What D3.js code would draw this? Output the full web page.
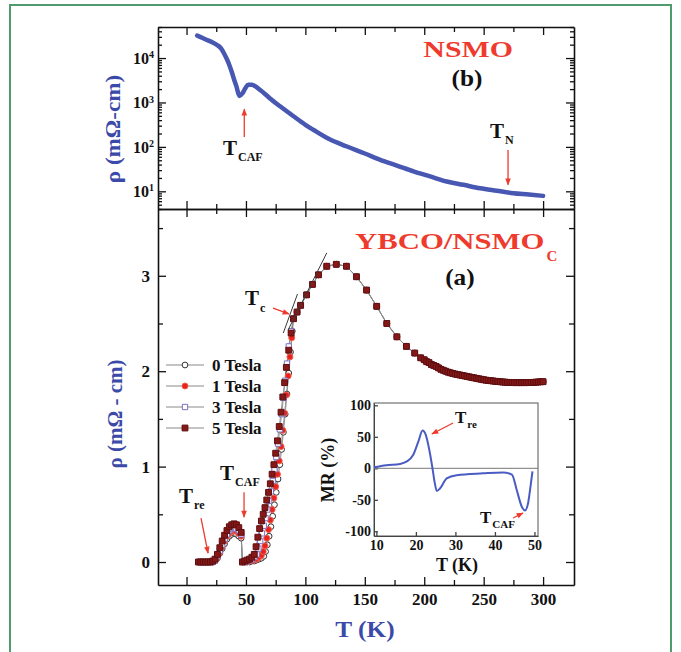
<!DOCTYPE html>
<html>
<head>
<meta charset="utf-8">
<script src="https://cdn.jsdelivr.net/npm/d3@7"></script>
<style>
  body { margin: 0; background: #fff; }
  text { font-family: "Liberation Serif", "Times New Roman", serif; font-weight: bold; }
</style>
</head>
<body>
<div id="chart"></div>
<script>
// ---------- values ----------
const fieldNames = ['0 Tesla', '1 Tesla', '3 Tesla', '5 Tesla'];

// (b) NSMO film, rho in mOhm-cm on a log axis
const nsmoT   = [9, 14, 18, 22, 26, 29, 31, 33.5, 36, 38, 40, 42, 44.5, 47, 49.5, 52, 55, 58, 62, 66,
                 70, 79, 90, 100, 107, 120, 135, 150, 163, 177, 191, 205, 219, 233, 247, 261, 275, 288, 300];
const nsmoRho = [3.2e4, 2.8e4, 2.5e4, 2.25e4, 1.95e4, 1.65e4, 1.35e4, 1.0e4, 7.0e3, 4.9e3,
                 3.3e3, 2.3e3, 1.4e3, 1.6e3, 2.1e3, 2.5e3, 2.5e3, 2.3e3, 1.9e3, 1.55e3,
                 1.25e3, 810, 490, 315, 240, 150, 102, 71, 51, 38, 28, 21.6, 16.6, 14, 11.7, 10.3, 9.1, 8.5, 7.9];

// (a) YBCO/NSMO_C below Tc, one pair per field
const t0T   = [10,12,14,16,18,20,22,24,26,28,30,32,34,36,38,40,42,44,46,47, 49,51,53,55,57,59,61,63,65,
               66.5,68,69.5,71,72.5,74,75.5,77,78.5,80,81.5,83,84.5,86,87.5,89];
const t0Rho = [0,0,0,0,0,0,0,0.01,0.04,0.09,0.14,0.19,0.24,0.27,0.29,0.30,0.29,0.27,0.25,0.0,
               0.0,0.0,0.0,0.01,0.01,0.02,0.03,0.04,0.06,
               0.11,0.18,0.27,0.37,0.48,0.6,0.73,0.87,1.02,1.18,1.36,1.55,1.76,1.98,2.2,2.42];
const t1T   = [10,12,14,16,18,20,22,24,26,28,30,32,34,36,38,40,42,44,46,47, 49,51,53,55,57,59,61,63,
               64.5,66,67.5,69,70.5,72,73.5,75,76.5,78,79.5,81,82.5,84,85.5,87,88.5];
const t1Rho = [0,0,0,0,0,0,0,0.01,0.05,0.1,0.16,0.22,0.27,0.30,0.32,0.33,0.32,0.30,0.27,0.0,
               0.0,0.0,0.01,0.02,0.02,0.03,0.05,0.07,
               0.11,0.17,0.25,0.34,0.44,0.55,0.67,0.79,0.92,1.06,1.21,1.38,1.56,1.75,1.95,2.15,2.35];
const t3T   = [10,12,14,16,18,20,22,24,26,28,30,32,34,36,38,40,42,44,46,47, 49,51,53,55,57,59,
               60.5,62,63.5,65,66.5,68,69.5,71,72.5,74,75.5,77,78.5,80,81.5,83,84.5,86,88];
const t3Rho = [0,0,0,0,0,0,0,0.02,0.06,0.12,0.18,0.24,0.29,0.33,0.35,0.36,0.35,0.33,0.29,0.0,
               0.0,0.01,0.02,0.03,0.05,0.08,
               0.14,0.22,0.3,0.38,0.46,0.55,0.64,0.74,0.85,0.97,1.1,1.24,1.39,1.55,1.72,1.9,2.08,2.26,2.42];
const t5T   = [10,12,14,16,18,20,22,24,26,28,30,32,34,36,38,40,42,44,46,47, 49,51,53,55,57,
               58.5,60,61.5,63,64.5,66,67.5,69,70.5,72,73.5,75,76.5,78,79.5,81,82.5,84,86,88];
const t5Rho = [0,0,0,0,0,0,0.01,0.03,0.08,0.15,0.22,0.28,0.33,0.37,0.39,0.40,0.39,0.36,0.31,0.0,
               0.01,0.02,0.03,0.05,0.08,
               0.16,0.26,0.35,0.43,0.5,0.57,0.65,0.73,0.82,0.92,1.02,1.14,1.27,1.42,1.57,1.73,1.88,2.04,2.22,2.4];

// normal state above Tc: the four fields lie on top of each other
const normalT   = [90, 93, 96, 101, 106, 111, 118, 126, 134.5, 143, 151.5, 160, 168.5, 177, 185, 192, 197,
                   200, 202, 204, 206, 208, 210, 212, 214, 216, 218, 220, 222, 224, 226, 228, 230, 232, 234,
                   236, 238, 240, 242, 244, 246, 248, 250, 252, 254, 256, 258, 260, 262, 264, 266, 268, 270,
                   272, 274, 276, 278, 280, 282, 284, 286, 288, 290, 292, 294, 296, 298, 300];
const normalRho = [2.55, 2.62, 2.69, 2.80, 2.91, 3.01, 3.10, 3.12, 3.10, 2.99, 2.85, 2.68, 2.50, 2.36, 2.26, 2.19, 2.14,
                   2.12, 2.10, 2.09, 2.07, 2.06, 2.05, 2.035, 2.02, 2.01, 2.00, 1.99, 1.983, 1.976, 1.97, 1.965, 1.96, 1.955, 1.95,
                   1.945, 1.94, 1.935, 1.93, 1.925, 1.92, 1.915, 1.91, 1.906, 1.902, 1.90, 1.897, 1.894, 1.891, 1.889, 1.887, 1.885, 1.883,
                   1.882, 1.881, 1.88, 1.88, 1.88, 1.88, 1.88, 1.88, 1.881, 1.882, 1.883, 1.885, 1.887, 1.889, 1.89];

// tangent lines used to mark Tc
const tangentA = [[81.4, 2.40], [93.4, 2.81]];
const tangentB = [[85.4, 2.43], [118, 3.24]];

// inset: magnetoresistance
const mrT   = [9.4, 12.5, 16, 17.6, 19.3, 20.6, 21.7, 22.5, 23.4, 24.2, 24.8, 25.3, 26.1, 27.8, 30.3, 37, 42, 44.3,
               45.5, 46.8, 47.6, 48.4, 49, 49.5];
const mrVal = [1.6, 5, 7, 10.5, 21, 42, 60, 53, 29, 0, -24, -36, -32, -16, -11, -8, -6.5, -10,
               -34, -61, -67, -55, -29, -5];

// ticks
const tempTicks  = [0, 50, 100, 150, 200, 250, 300];
const tempMinor  = [25, 75, 125, 175, 225, 275];
const rhoTicks   = [0, 1, 2, 3];
const rhoMinor   = [0.5, 1.5, 2.5, 3.5];
const logTicks   = [10, 100, 1000, 10000];
const mrTicks    = [-100, -50, 0, 50, 100];
const mrTempTicks = [10, 20, 30, 40, 50];

// ---------- drawing ----------
const svg = d3.select('#chart').append('svg').attr('width', 681).attr('height', 652);
const red = '#ee3b2e', blue = '#3b4aa8';

svg.append('rect').attr('x', 10).attr('y', 5).attr('width', 661).attr('height', 700)
  .attr('fill', 'none').attr('stroke', '#4f9b6e').attr('stroke-width', 2);

svg.append('defs').append('marker').attr('id', 'ah')
  .attr('viewBox', '0 0 10 10').attr('refX', 9).attr('refY', 5)
  .attr('markerWidth', 8).attr('markerHeight', 7).attr('markerUnits', 'userSpaceOnUse')
  .attr('orient', 'auto')
  .append('path').attr('d', 'M0,1L10,5L0,9z').attr('fill', red);

const x = d3.scaleLinear().domain([-24, 326]).range([158, 574]);
const yTop = d3.scaleLog().domain([4, 5e4]).range([209, 27]);
const yBot = d3.scaleLinear().domain([-0.241, 3.70]).range([585, 209]);

function axis(maker, scale, values, size, transform, labels, opts) {
  opts = opts || {};
  const a = maker(scale).tickValues(values).tickSizeInner(size).tickSizeOuter(0)
    .tickPadding(opts.pad || 8);
  a.tickFormat(labels ? (d => String(d)) : '');
  const g = svg.append('g').attr('transform', transform).call(a);
  if (opts.minor) g.select('.domain').remove();
  g.select('.domain').attr('stroke', opts.color || '#111').attr('stroke-width', opts.width || 1.6);
  g.selectAll('.tick line').attr('stroke', opts.color || '#111').attr('stroke-width', 1.3);
  g.selectAll('.tick text').attr('fill', '#111').style('font-size', (opts.font || 17) + 'px');
  return g;
}

// ---- (b) top panel ----
const logMinor = yTop.ticks().filter(v => Math.abs(Math.log10(v) - Math.round(Math.log10(v))) > 1e-6);
axis(d3.axisBottom, x, tempTicks, -8, 'translate(0,209)', false);
axis(d3.axisBottom, x, tempMinor, -5, 'translate(0,209)', false, {minor: true});
axis(d3.axisTop, x, tempTicks, -8, 'translate(0,27)', false);
axis(d3.axisTop, x, tempMinor, -5, 'translate(0,27)', false, {minor: true});
const logAxis = axis(d3.axisLeft, yTop, logTicks, -8, 'translate(158,0)', true, {pad: 4, font: 16});
logAxis.selectAll('.tick text').each(function (d) {
  const t = d3.select(this).text('');
  t.append('tspan').text('10');
  t.append('tspan').attr('dy', '-0.55em').style('font-size', '10px').text(Math.round(Math.log10(d)));
});
axis(d3.axisLeft, yTop, logMinor, -4, 'translate(158,0)', false, {minor: true});
axis(d3.axisRight, yTop, logTicks, -8, 'translate(574,0)', false);
axis(d3.axisRight, yTop, logMinor, -4, 'translate(574,0)', false, {minor: true});

const nsmo = nsmoT.map((t, i) => [t, nsmoRho[i]]);
svg.append('path').datum(nsmo)
  .attr('d', d3.line().x(d => x(d[0])).y(d => yTop(d[1])).curve(d3.curveMonotoneX))
  .attr('fill', 'none').attr('stroke', '#4757b2').attr('stroke-width', 4.5)
  .attr('stroke-linejoin', 'round').attr('stroke-linecap', 'round');

// ---- (a) bottom panel ----
axis(d3.axisBottom, x, tempTicks, -8, 'translate(0,585)', true);
axis(d3.axisBottom, x, tempMinor, -5, 'translate(0,585)', false, {minor: true});
axis(d3.axisTop, x, tempTicks, -8, 'translate(0,209)', false);
axis(d3.axisTop, x, tempMinor, -5, 'translate(0,209)', false, {minor: true});
axis(d3.axisLeft, yBot, rhoTicks, -8, 'translate(158,0)', true);
axis(d3.axisLeft, yBot, rhoMinor, -5, 'translate(158,0)', false, {minor: true});
axis(d3.axisRight, yBot, rhoTicks, -8, 'translate(574,0)', false);
axis(d3.axisRight, yBot, rhoMinor, -5, 'translate(574,0)', false, {minor: true});

const lowT = [t0T, t1T, t3T, t5T];
const lowRho = [t0Rho, t1Rho, t3Rho, t5Rho];
const series = fieldNames.map((name, k) => ({
  name,
  pts: lowT[k].map((t, i) => [t, lowRho[k][i]])
    .concat(normalT.map((t, i) => [t, normalRho[i]]))
}));
const looks = [
  {shape: d3.symbolCircle, size: 26, fill: '#fff', stroke: '#333'},
  {shape: d3.symbolCircle, size: 28, fill: '#e8221c', stroke: '#f2604f'},
  {shape: d3.symbolSquare, size: 28, fill: '#fff', stroke: '#7d6fc4'},
  {shape: d3.symbolSquare, size: 34, fill: '#861818', stroke: '#5e0f0f'}
];
const rhoLine = d3.line().x(d => x(d[0])).y(d => yBot(d[1]));

svg.append('g').selectAll('path').data(series).enter().append('path')
  .attr('d', d => rhoLine(d.pts))
  .attr('fill', 'none').attr('stroke', '#8a8a8a').attr('stroke-width', 0.9);

series.forEach((s, k) => {
  svg.append('g').selectAll('path').data(s.pts).enter().append('path')
    .attr('transform', d => 'translate(' + x(d[0]) + ',' + yBot(d[1]) + ')')
    .attr('d', d3.symbol().type(looks[k].shape).size(looks[k].size))
    .attr('fill', looks[k].fill).attr('stroke', looks[k].stroke).attr('stroke-width', 1);
});

[tangentA, tangentB].forEach(l => {
  svg.append('path').datum(l).attr('d', rhoLine)
    .attr('stroke', '#3a3a3a').attr('stroke-width', 1).attr('fill', 'none');
});

// legend
const leg = svg.append('g').selectAll('g').data(fieldNames).enter().append('g')
  .attr('transform', (d, i) => 'translate(0,' + (365 + i * 21) + ')');
leg.append('line').attr('x1', 166).attr('x2', 204).attr('stroke', '#8a8a8a').attr('stroke-width', 1.2);
leg.append('path').attr('transform', 'translate(185,0)')
  .attr('d', (d, i) => d3.symbol().type(looks[i].shape).size(looks[i].size)())
  .attr('fill', (d, i) => looks[i].fill).attr('stroke', (d, i) => looks[i].stroke);
leg.append('text').attr('x', 212).attr('y', 6).style('font-size', '17px').attr('fill', '#111').text(d => d);

// ---- inset ----
const xIn = d3.scaleLinear().domain([9.4, 50.9]).range([374, 538]);
const yIn = d3.scaleLinear().domain([-107.5, 103.7]).range([536, 403]);
svg.append('rect').attr('x', 374).attr('y', 403).attr('width', 164).attr('height', 133)
  .attr('fill', '#fff').attr('stroke', '#555').attr('stroke-width', 1);
axis(d3.axisLeft, yIn, mrTicks, -4, 'translate(374,0)', true, {pad: 3, font: 14, color: '#444', width: 1});
axis(d3.axisBottom, xIn, mrTempTicks, -4, 'translate(0,536)', true, {pad: 4, font: 14, color: '#444', width: 1});
svg.append('line').attr('x1', xIn.range()[0]).attr('x2', xIn.range()[1])
  .attr('y1', yIn(0)).attr('y2', yIn(0)).attr('stroke', '#777').attr('stroke-width', 1);
svg.append('path').datum(mrT.map((t, i) => [t, mrVal[i]]))
  .attr('d', d3.line().x(d => xIn(d[0])).y(d => yIn(d[1])).curve(d3.curveMonotoneX))
  .attr('fill', 'none').attr('stroke', '#4a5cc4').attr('stroke-width', 2);

// ---- texts ----
function label(px, py, str, size, opts) {
  opts = opts || {};
  const t = svg.append('text').attr('x', px).attr('y', py).style('font-size', size + 'px')
    .attr('fill', opts.fill || '#111').attr('text-anchor', opts.anchor || 'start').text(str);
  if (opts.rotate) t.attr('transform', 'rotate(-90,' + px + ',' + py + ')');
  if (opts.stretch) {
    const w = t.node().getComputedTextLength();
    t.attr('textLength', w * opts.stretch).attr('lengthAdjust', 'spacingAndGlyphs');
  }
  return t;
}
function tLabel(px, py, sub, size, subSize) {
  const t = label(px, py, 'T', size);
  const w = t.node().getComputedTextLength();
  label(px + w + 1, py + size * 0.3, sub, subSize);
}
function arrow(p0, p1) {
  svg.append('line').attr('x1', p0[0]).attr('y1', p0[1]).attr('x2', p1[0]).attr('y2', p1[1])
    .attr('stroke', red).attr('stroke-width', 1.3).attr('marker-end', 'url(#ah)');
}

label(x(237), yTop(1.05e4), 'NSMO', 23, {fill: red, anchor: 'middle', stretch: 1.3});
label(x(236), yTop(2.35e3), '(b)', 23, {anchor: 'middle', stretch: 1.1});
tLabel(x(30.7), yTop(66), 'CAF', 21, 12);
arrow([x(48.6), yTop(166)], [x(48.6), yTop(708)]);
tLabel(x(255.3), yTop(158), 'N', 21, 12);
arrow([x(270.5), yTop(85)], [x(270.5), yTop(14)]);

const yb = label(x(141.8), yBot(3.28), 'YBCO/NSMO', 24, {fill: red, stretch: 1.28});
label(x(141.8) + yb.node().getBBox().width + 2, yBot(3.28) + 12, 'C', 15, {fill: red});
label(x(230), yBot(2.90), '(a)', 23, {anchor: 'middle', stretch: 1.1});
tLabel(x(49.2), yBot(2.69), 'c', 21, 12);
arrow([x(72.8), yBot(2.66)], [x(86.2), yBot(2.60)]);
tLabel(x(-6.3), yBot(0.62), 're', 21, 12);
arrow([x(12.2), yBot(0.46)], [x(18.1), yBot(0.094)]);
tLabel(x(28.2), yBot(0.86), 'CAF', 21, 12);
arrow([x(48.4), yBot(0.73)], [x(48.4), yBot(0.47)]);

tLabel(xIn(29.9), yIn(71.9), 're', 17, 11);
arrow([xIn(29.4), yIn(71.9)], [xIn(24.05), yIn(54.4)]);
tLabel(xIn(36.2), yIn(-86.8), 'CAF', 17, 11);
arrow([xIn(44.6), yIn(-78.9)], [xIn(47.1), yIn(-71)]);

label(120, 129, 'ρ (mΩ-cm)', 21, {fill: blue, anchor: 'middle', rotate: true, stretch: 1.1});
label(122, 414, 'ρ (mΩ - cm)', 21, {fill: blue, anchor: 'middle', rotate: true});
label(365, 637, 'T (K)', 23, {fill: blue, anchor: 'middle', stretch: 1.1});
label(334, 470, 'MR (%)', 18, {anchor: 'middle', rotate: true});
label(457, 571, 'T (K)', 18, {anchor: 'middle'});
</script>
</body>
</html>
